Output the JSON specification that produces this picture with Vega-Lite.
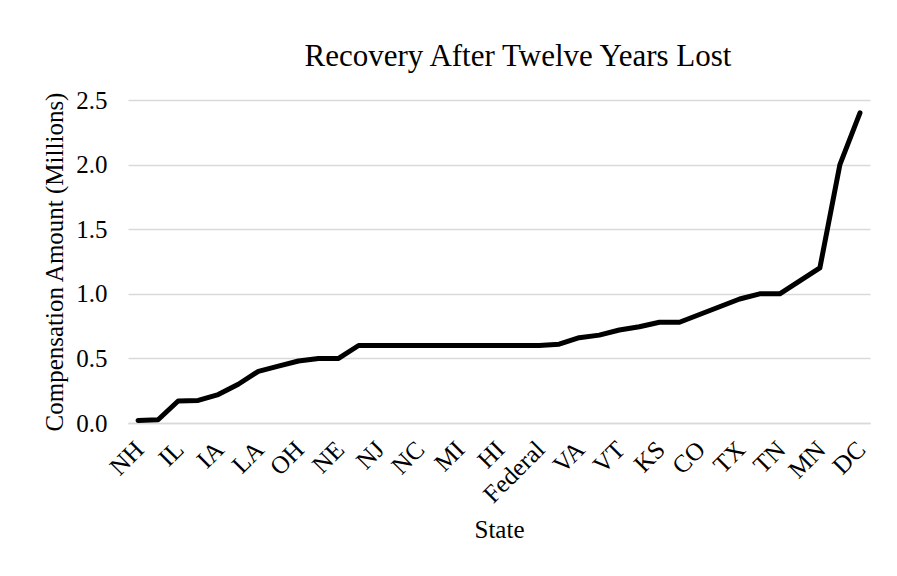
{
  "$schema": "https://vega.github.io/schema/vega-lite/v6.json",
  "autosize": {"type": "none"},
  "padding": {"left": 128, "top": 100, "right": 27, "bottom": 153},
  "width": 742,
  "height": 323,
  "background": "white",
  "title": {
    "text": "Recovery After Twelve Years Lost",
    "font": "Liberation Serif",
    "fontSize": 31,
    "fontWeight": "normal",
    "color": "black",
    "anchor": "middle",
    "frame": "group",
    "dx": 19,
    "baseline": "alphabetic",
    "offset": -9
  },
  "data": {
    "values": [
      {"state": "NH", "amount": 0.02},
      {"state": "WI", "amount": 0.025},
      {"state": "IL", "amount": 0.17},
      {"state": "OK", "amount": 0.175},
      {"state": "IA", "amount": 0.22},
      {"state": "MO", "amount": 0.30},
      {"state": "LA", "amount": 0.40},
      {"state": "MS", "amount": 0.44},
      {"state": "OH", "amount": 0.48},
      {"state": "UT", "amount": 0.50},
      {"state": "NE", "amount": 0.50},
      {"state": "AL", "amount": 0.60},
      {"state": "NJ", "amount": 0.60},
      {"state": "CT", "amount": 0.60},
      {"state": "NC", "amount": 0.60},
      {"state": "FL", "amount": 0.60},
      {"state": "MI", "amount": 0.60},
      {"state": "ID", "amount": 0.60},
      {"state": "HI", "amount": 0.60},
      {"state": "MD", "amount": 0.60},
      {"state": "Federal", "amount": 0.60},
      {"state": "IN", "amount": 0.61},
      {"state": "VA", "amount": 0.66},
      {"state": "WA", "amount": 0.68},
      {"state": "VT", "amount": 0.72},
      {"state": "MA", "amount": 0.745},
      {"state": "KS", "amount": 0.78},
      {"state": "NY", "amount": 0.78},
      {"state": "CO", "amount": 0.84},
      {"state": "MT", "amount": 0.90},
      {"state": "TX", "amount": 0.96},
      {"state": "DE", "amount": 1.0},
      {"state": "TN", "amount": 1.0},
      {"state": "RI", "amount": 1.1},
      {"state": "MN", "amount": 1.2},
      {"state": "CA", "amount": 2.0},
      {"state": "DC", "amount": 2.4}
    ]
  },
  "mark": {"type": "line", "color": "black", "strokeWidth": 5, "strokeJoin": "round", "strokeCap": "round"},
  "encoding": {
    "x": {
      "field": "state",
      "type": "ordinal",
      "sort": null,
      "scale": {"type": "point", "padding": 0.5},
      "axis": {
        "title": "State",
        "values": ["NH", "IL", "IA", "LA", "OH", "NE", "NJ", "NC", "MI", "HI", "Federal", "VA", "VT", "KS", "CO", "TX", "TN", "MN", "DC"],
        "labelAngle": -45,
        "labelAlign": "right",
        "labelBaseline": "middle",
        "labelPadding": 22,
        "labelOffset": 1,
        "ticks": false,
        "grid": false,
        "domain": true,
        "domainColor": "#d9d9d9",
        "domainWidth": 1.5,
        "titlePadding": 10
      }
    },
    "y": {
      "field": "amount",
      "type": "quantitative",
      "scale": {"domain": [0, 2.5]},
      "axis": {
        "title": "Compensation Amount (Millions)",
        "values": [0, 0.5, 1, 1.5, 2, 2.5],
        "format": ".1f",
        "ticks": false,
        "domain": false,
        "grid": true,
        "gridColor": "#d9d9d9",
        "gridWidth": 1.5,
        "labelPadding": 21,
        "titlePadding": 8
      }
    }
  },
  "config": {
    "view": {"stroke": null},
    "axis": {
      "labelFont": "Liberation Serif",
      "labelFontSize": 25,
      "labelColor": "black",
      "titleFont": "Liberation Serif",
      "titleFontSize": 25,
      "titleFontWeight": "normal",
      "titleColor": "black"
    }
  }
}
